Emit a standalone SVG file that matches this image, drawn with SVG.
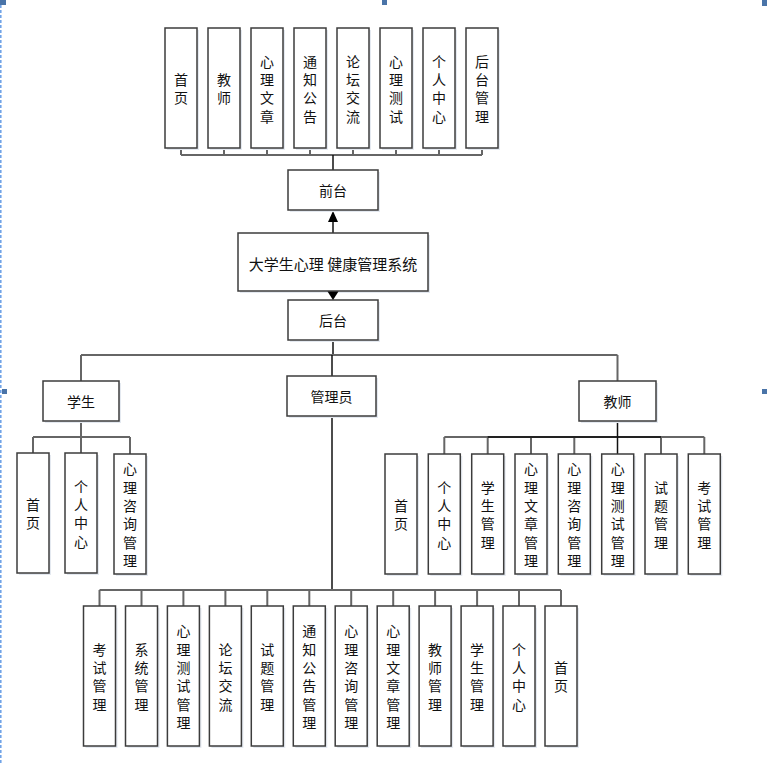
<svg xmlns="http://www.w3.org/2000/svg" width="767" height="763" viewBox="0 0 767 763">
<style>
.b{fill:#fff;stroke:#3c3c3c;stroke-width:1.5}
.s{fill:#e4e9f0;stroke:none}
.t{font-family:"Noto Sans CJK SC","Noto Sans",sans-serif;font-size:14px;fill:#111;text-anchor:middle;dominant-baseline:central}
.c{fill:none;stroke:#666;stroke-width:2}
.m{fill:none;stroke:#111;stroke-width:1.5}
.h{fill:#4a74a8}
</style>
<rect width="767" height="763" fill="#fff"/>
<line x1="0.8" y1="0" x2="0.8" y2="763" stroke="#6a9fe6" stroke-width="1.5" stroke-dasharray="3,2"/>
<rect class="h" x="0" y="0" width="6" height="5"/>
<rect class="h" x="382" y="0" width="5" height="5"/>
<rect class="h" x="762" y="0" width="5" height="6"/>
<rect class="h" x="2" y="389" width="5" height="5"/>
<rect class="h" x="762" y="389" width="5" height="5"/>

<g id="connectors">
<path class="c" d="M181 155H482M181 148V155M224 148V155M267 148V155M310 148V155M353 148V155M396 148V155M439 148V155M482 148V155"/>
<path class="m" d="M333 155V170"/>
<path class="m" d="M333 233V221"/>
<polygon points="333,211 328,222 338,222" fill="#000"/>
<path class="m" d="M333 340V355"/>
<path class="c" d="M81 355H617.5M81 355V381M617.5 355V381"/>
<path class="m" d="M332 355V376"/>
<path class="c" d="M81 421V437M33 437H130M33 437V453M81 437V453M130 437V454"/>
<path class="c" d="M444.3 437H704.3M444.3 437V454M487.7 437V454M531 437V454M574.3 437V454M661 437V454M704.3 437V454"/>
<path d="M487.7 437H661" stroke="#222" stroke-width="2" fill="none"/>
<path class="m" d="M617.5 421V454"/>
<path class="m" d="M332 416V590"/>
<path class="c" d="M99.5 590H561M99.5 590V606M141.5 590V606M183.4 590V606M225.4 590V606M267.3 590V606M309.3 590V606M351.2 590V606M393.2 590V606M435.1 590V606M477.1 590V606M519 590V606M561 590V606"/>
</g>

<g id="n-home-f"><rect class="s" x="167" y="30" width="32" height="120"/><rect class="b" x="165" y="28" width="32" height="120"/><text class="t"><tspan x="181" y="78.9">首</tspan><tspan x="181" y="97.2">页</tspan></text></g>
<g id="n-teacher-f"><rect class="s" x="210" y="30" width="32" height="120"/><rect class="b" x="208" y="28" width="32" height="120"/><text class="t"><tspan x="224" y="78.9">教</tspan><tspan x="224" y="97.2">师</tspan></text></g>
<g id="n-article-f"><rect class="s" x="253" y="30" width="32" height="120"/><rect class="b" x="251" y="28" width="32" height="120"/><text class="t"><tspan x="267" y="60.6">心</tspan><tspan x="267" y="78.9">理</tspan><tspan x="267" y="97.2">文</tspan><tspan x="267" y="115.5">章</tspan></text></g>
<g id="n-notice-f"><rect class="s" x="296" y="30" width="32" height="120"/><rect class="b" x="294" y="28" width="32" height="120"/><text class="t"><tspan x="310" y="60.6">通</tspan><tspan x="310" y="78.9">知</tspan><tspan x="310" y="97.2">公</tspan><tspan x="310" y="115.5">告</tspan></text></g>
<g id="n-forum-f"><rect class="s" x="339" y="30" width="32" height="120"/><rect class="b" x="337" y="28" width="32" height="120"/><text class="t"><tspan x="353" y="60.6">论</tspan><tspan x="353" y="78.9">坛</tspan><tspan x="353" y="97.2">交</tspan><tspan x="353" y="115.5">流</tspan></text></g>
<g id="n-test-f"><rect class="s" x="382" y="30" width="32" height="120"/><rect class="b" x="380" y="28" width="32" height="120"/><text class="t"><tspan x="396" y="60.6">心</tspan><tspan x="396" y="78.9">理</tspan><tspan x="396" y="97.2">测</tspan><tspan x="396" y="115.5">试</tspan></text></g>
<g id="n-center-f"><rect class="s" x="425" y="30" width="32" height="120"/><rect class="b" x="423" y="28" width="32" height="120"/><text class="t"><tspan x="439" y="60.6">个</tspan><tspan x="439" y="78.9">人</tspan><tspan x="439" y="97.2">中</tspan><tspan x="439" y="115.5">心</tspan></text></g>
<g id="n-admin-f"><rect class="s" x="468" y="30" width="32" height="120"/><rect class="b" x="466" y="28" width="32" height="120"/><text class="t"><tspan x="482" y="60.6">后</tspan><tspan x="482" y="78.9">台</tspan><tspan x="482" y="97.2">管</tspan><tspan x="482" y="115.5">理</tspan></text></g>

<g id="n-front"><rect class="s" x="290" y="172" width="90" height="40"/><rect class="b" x="288" y="170" width="90" height="40"/><text class="t" x="333" y="190">前台</text></g>
<g id="n-system"><rect class="s" x="240" y="235" width="190" height="58"/><rect class="b" x="238" y="233" width="190" height="58"/><text class="t" x="333" y="263" style="font-size:15px">大学生心理 健康管理系统</text></g>
<g id="n-back"><rect class="s" x="290" y="302" width="90" height="40"/><rect class="b" x="288" y="300" width="90" height="40"/><text class="t" x="333" y="320">后台</text></g>
<polygon points="333,300 327.5,291.5 338.5,291.5" fill="#000"/>

<g id="n-student"><rect class="s" x="45" y="383" width="76" height="40"/><rect class="b" x="43" y="381" width="76" height="40"/><text class="t" x="81" y="401">学生</text></g>
<g id="n-admin"><rect class="s" x="289" y="378" width="89" height="40"/><rect class="b" x="287" y="376" width="89" height="40"/><text class="t" x="331.5" y="396">管理员</text></g>
<g id="n-teacher"><rect class="s" x="581" y="383" width="77" height="40"/><rect class="b" x="579" y="381" width="77" height="40"/><text class="t" x="617.5" y="401">教师</text></g>

<g id="n-s-home"><rect class="s" x="19" y="455" width="32" height="120"/><rect class="b" x="17" y="453" width="32" height="120"/><text class="t"><tspan x="33" y="503.9">首</tspan><tspan x="33" y="522.2">页</tspan></text></g>
<g id="n-s-center"><rect class="s" x="67" y="455" width="32" height="120"/><rect class="b" x="65" y="453" width="32" height="120"/><text class="t"><tspan x="81" y="485.6">个</tspan><tspan x="81" y="503.9">人</tspan><tspan x="81" y="522.2">中</tspan><tspan x="81" y="540.5">心</tspan></text></g>
<g id="n-s-consult"><rect class="s" x="116" y="456" width="32" height="120"/><rect class="b" x="114" y="454" width="32" height="120"/><text class="t"><tspan x="130" y="468.3">心</tspan><tspan x="130" y="486.6">理</tspan><tspan x="130" y="504.9">咨</tspan><tspan x="130" y="523.2">询</tspan><tspan x="130" y="541.5">管</tspan><tspan x="130" y="559.8">理</tspan></text></g>

<g id="n-t-home"><rect class="s" x="387" y="456" width="32" height="120"/><rect class="b" x="385" y="454" width="32" height="120"/><text class="t"><tspan x="401" y="504.9">首</tspan><tspan x="401" y="523.2">页</tspan></text></g>
<g id="n-t-center"><rect class="s" x="430.3" y="456" width="32" height="120"/><rect class="b" x="428.3" y="454" width="32" height="120"/><text class="t"><tspan x="444.3" y="486.6">个</tspan><tspan x="444.3" y="504.9">人</tspan><tspan x="444.3" y="523.2">中</tspan><tspan x="444.3" y="541.5">心</tspan></text></g>
<g id="n-t-student"><rect class="s" x="473.7" y="456" width="32" height="120"/><rect class="b" x="471.7" y="454" width="32" height="120"/><text class="t"><tspan x="487.7" y="486.6">学</tspan><tspan x="487.7" y="504.9">生</tspan><tspan x="487.7" y="523.2">管</tspan><tspan x="487.7" y="541.5">理</tspan></text></g>
<g id="n-t-article"><rect class="s" x="517" y="456" width="32" height="120"/><rect class="b" x="515" y="454" width="32" height="120"/><text class="t"><tspan x="531" y="468.3">心</tspan><tspan x="531" y="486.6">理</tspan><tspan x="531" y="504.9">文</tspan><tspan x="531" y="523.2">章</tspan><tspan x="531" y="541.5">管</tspan><tspan x="531" y="559.8">理</tspan></text></g>
<g id="n-t-consult"><rect class="s" x="560.3" y="456" width="32" height="120"/><rect class="b" x="558.3" y="454" width="32" height="120"/><text class="t"><tspan x="574.3" y="468.3">心</tspan><tspan x="574.3" y="486.6">理</tspan><tspan x="574.3" y="504.9">咨</tspan><tspan x="574.3" y="523.2">询</tspan><tspan x="574.3" y="541.5">管</tspan><tspan x="574.3" y="559.8">理</tspan></text></g>
<g id="n-t-test"><rect class="s" x="603.7" y="456" width="32" height="120"/><rect class="b" x="601.7" y="454" width="32" height="120"/><text class="t"><tspan x="617.7" y="468.3">心</tspan><tspan x="617.7" y="486.6">理</tspan><tspan x="617.7" y="504.9">测</tspan><tspan x="617.7" y="523.2">试</tspan><tspan x="617.7" y="541.5">管</tspan><tspan x="617.7" y="559.8">理</tspan></text></g>
<g id="n-t-question"><rect class="s" x="647" y="456" width="32" height="120"/><rect class="b" x="645" y="454" width="32" height="120"/><text class="t"><tspan x="661" y="486.6">试</tspan><tspan x="661" y="504.9">题</tspan><tspan x="661" y="523.2">管</tspan><tspan x="661" y="541.5">理</tspan></text></g>
<g id="n-t-exam"><rect class="s" x="690.3" y="456" width="32" height="120"/><rect class="b" x="688.3" y="454" width="32" height="120"/><text class="t"><tspan x="704.3" y="486.6">考</tspan><tspan x="704.3" y="504.9">试</tspan><tspan x="704.3" y="523.2">管</tspan><tspan x="704.3" y="541.5">理</tspan></text></g>

<g id="n-a-exam"><rect class="s" x="85.5" y="608" width="32" height="140"/><rect class="b" x="83.5" y="606" width="32" height="140"/><text class="t"><tspan x="99.5" y="648.6">考</tspan><tspan x="99.5" y="666.9">试</tspan><tspan x="99.5" y="685.2">管</tspan><tspan x="99.5" y="703.5">理</tspan></text></g>
<g id="n-a-system"><rect class="s" x="127.5" y="608" width="32" height="140"/><rect class="b" x="125.5" y="606" width="32" height="140"/><text class="t"><tspan x="141.5" y="648.6">系</tspan><tspan x="141.5" y="666.9">统</tspan><tspan x="141.5" y="685.2">管</tspan><tspan x="141.5" y="703.5">理</tspan></text></g>
<g id="n-a-test"><rect class="s" x="169.4" y="608" width="32" height="140"/><rect class="b" x="167.4" y="606" width="32" height="140"/><text class="t"><tspan x="183.4" y="630.3">心</tspan><tspan x="183.4" y="648.6">理</tspan><tspan x="183.4" y="666.9">测</tspan><tspan x="183.4" y="685.2">试</tspan><tspan x="183.4" y="703.5">管</tspan><tspan x="183.4" y="721.8">理</tspan></text></g>
<g id="n-a-forum"><rect class="s" x="211.4" y="608" width="32" height="140"/><rect class="b" x="209.4" y="606" width="32" height="140"/><text class="t"><tspan x="225.4" y="648.6">论</tspan><tspan x="225.4" y="666.9">坛</tspan><tspan x="225.4" y="685.2">交</tspan><tspan x="225.4" y="703.5">流</tspan></text></g>
<g id="n-a-question"><rect class="s" x="253.3" y="608" width="32" height="140"/><rect class="b" x="251.3" y="606" width="32" height="140"/><text class="t"><tspan x="267.3" y="648.6">试</tspan><tspan x="267.3" y="666.9">题</tspan><tspan x="267.3" y="685.2">管</tspan><tspan x="267.3" y="703.5">理</tspan></text></g>
<g id="n-a-notice"><rect class="s" x="295.3" y="608" width="32" height="140"/><rect class="b" x="293.3" y="606" width="32" height="140"/><text class="t"><tspan x="309.3" y="630.3">通</tspan><tspan x="309.3" y="648.6">知</tspan><tspan x="309.3" y="666.9">公</tspan><tspan x="309.3" y="685.2">告</tspan><tspan x="309.3" y="703.5">管</tspan><tspan x="309.3" y="721.8">理</tspan></text></g>
<g id="n-a-consult"><rect class="s" x="337.2" y="608" width="32" height="140"/><rect class="b" x="335.2" y="606" width="32" height="140"/><text class="t"><tspan x="351.2" y="630.3">心</tspan><tspan x="351.2" y="648.6">理</tspan><tspan x="351.2" y="666.9">咨</tspan><tspan x="351.2" y="685.2">询</tspan><tspan x="351.2" y="703.5">管</tspan><tspan x="351.2" y="721.8">理</tspan></text></g>
<g id="n-a-article"><rect class="s" x="379.2" y="608" width="32" height="140"/><rect class="b" x="377.2" y="606" width="32" height="140"/><text class="t"><tspan x="393.2" y="630.3">心</tspan><tspan x="393.2" y="648.6">理</tspan><tspan x="393.2" y="666.9">文</tspan><tspan x="393.2" y="685.2">章</tspan><tspan x="393.2" y="703.5">管</tspan><tspan x="393.2" y="721.8">理</tspan></text></g>
<g id="n-a-teacher"><rect class="s" x="421.1" y="608" width="32" height="140"/><rect class="b" x="419.1" y="606" width="32" height="140"/><text class="t"><tspan x="435.1" y="648.6">教</tspan><tspan x="435.1" y="666.9">师</tspan><tspan x="435.1" y="685.2">管</tspan><tspan x="435.1" y="703.5">理</tspan></text></g>
<g id="n-a-student"><rect class="s" x="463.1" y="608" width="32" height="140"/><rect class="b" x="461.1" y="606" width="32" height="140"/><text class="t"><tspan x="477.1" y="648.6">学</tspan><tspan x="477.1" y="666.9">生</tspan><tspan x="477.1" y="685.2">管</tspan><tspan x="477.1" y="703.5">理</tspan></text></g>
<g id="n-a-center"><rect class="s" x="505" y="608" width="32" height="140"/><rect class="b" x="503" y="606" width="32" height="140"/><text class="t"><tspan x="519" y="648.6">个</tspan><tspan x="519" y="666.9">人</tspan><tspan x="519" y="685.2">中</tspan><tspan x="519" y="703.5">心</tspan></text></g>
<g id="n-a-home"><rect class="s" x="547" y="608" width="32" height="140"/><rect class="b" x="545" y="606" width="32" height="140"/><text class="t"><tspan x="561" y="666.9">首</tspan><tspan x="561" y="685.2">页</tspan></text></g>
</svg>
